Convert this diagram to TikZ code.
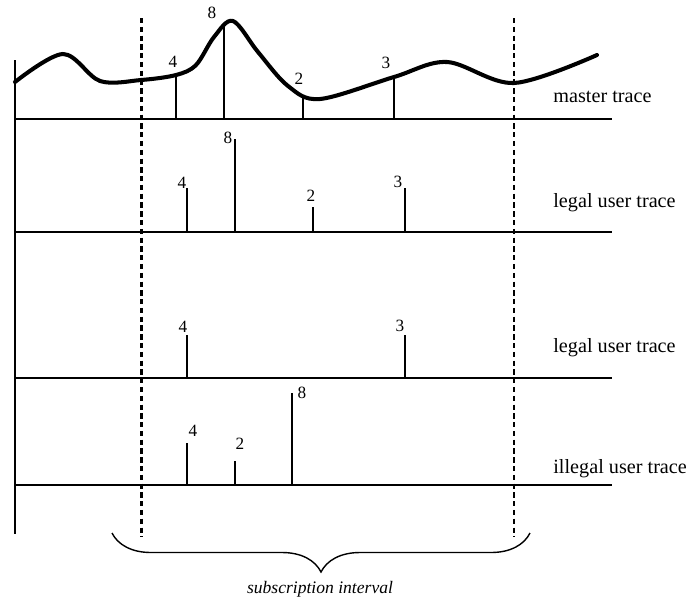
\documentclass[tikz,border=0pt]{standalone}
\usepackage{fontspec}
\setmainfont{Liberation Serif}
\usetikzlibrary{decorations.pathreplacing}
\tikzstyle{axis} = [line width=1.2pt]
\tikzstyle{traceline} = [line width=0.95pt]
\tikzstyle{spike} = [line width=0.95pt]
\tikzstyle{masterspike} = [line width=0.75pt]
\tikzstyle{bound} = [line width=1.15pt, dash pattern=on 3pt off 2pt]
\tikzstyle{num} = [inner sep=0pt, font=\fontsize{9.8}{10}\selectfont]
\tikzstyle{tracename} = [anchor=base west, inner sep=0pt, font=\fontsize{11.5}{13}\selectfont]

\begin{document}
\begin{tikzpicture}[x=0.02cm, y=-0.02cm]
\useasboundingbox (0,0) rectangle (688,602);

% time axis and the four traces
\draw[axis] (15,60) -- (15,534);
\foreach \y in {119,232,378,485}
  \draw[traceline] (15,\y) -- (612,\y);

% master trace
\draw[line width=2.3pt, line join=round, line cap=round] plot[smooth, tension=0.55] coordinates
  {(15,82) (63,54) (100,81) (141,80) (176,75) (196,65) (214,37) (233,21) (258,52) (288,86) (320,99) (394,77) (447,62) (514,83) (597,55)};
\foreach \x/\t in {176/76, 224/24, 303/96, 394/77}
  \draw[masterspike] (\x,119) -- (\x,\t);
\node[num] (m4) at (173,62) {4};
\node[num] (m8) at (212,13) {8};
\node[num] (m2) at (299,79) {2};
\node[num] (m3) at (386,63) {3};
\node[tracename] (master) at (553,102) {master trace};

% first legal user
\foreach \x/\t in {187/188, 235/139, 313/207, 405/188}
  \draw[spike] (\x,232) -- (\x,\t);
\node[num] (a4) at (182,183) {4};
\node[num] (a8) at (228,138) {8};
\node[num] (a2) at (311,196) {2};
\node[num] (a3) at (398,182) {3};
\node[tracename] (legalA) at (553,207) {legal user trace};

% second legal user
\foreach \x in {187, 405}
  \draw[spike] (\x,378) -- (\x,335);
\node[num] (b4) at (183,327) {4};
\node[num] (b3) at (400,326) {3};
\node[tracename] (legalB) at (553,352) {legal user trace};

% illegal user
\foreach \x/\t in {187/443, 235/461, 292/393}
  \draw[spike] (\x,485) -- (\x,\t);
\node[num] (c4) at (193,431) {4};
\node[num] (c2) at (240,444) {2};
\node[num] (c8) at (302,393) {8};
\node[tracename] (illegal) at (553,473) {illegal user trace};

% subscription interval
\draw[bound] (141.5,18) -- (141.5,537);
\draw[bound] (513.5,18) -- (513.5,537);
\draw[line width=0.8pt, decorate, decoration={brace, mirror, amplitude=0.78cm}] (112,533) -- (530,533);
\node[font=\fontsize{10}{12}\selectfont\itshape, inner sep=0pt] (interval) at (320,589) {subscription interval};

\end{tikzpicture}
\end{document}
